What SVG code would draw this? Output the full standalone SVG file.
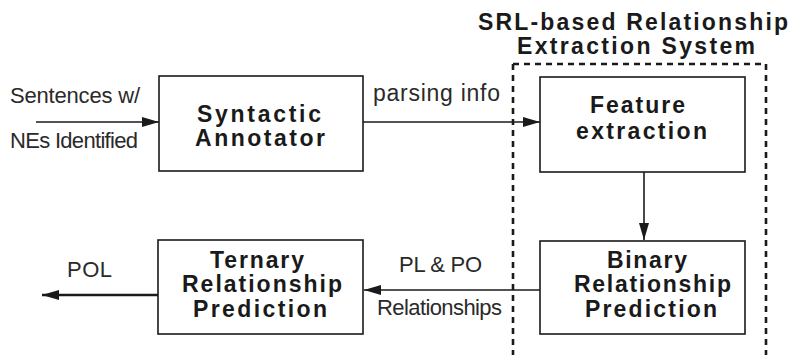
<svg xmlns="http://www.w3.org/2000/svg" width="795" height="355" viewBox="0 0 795 355">
  <style>
    .box { fill: #ffffff; stroke: #1a1a1a; stroke-width: 1.6; }
    .node { font-family: "Liberation Sans", Arial, sans-serif; font-weight: bold; font-size: 23px; fill: #1a1a1a; }
    .label { font-family: "Liberation Sans", Arial, sans-serif; font-size: 22px; fill: #2a2a2a; }
    .title { font-family: "Liberation Sans", Arial, sans-serif; font-weight: bold; font-size: 23px; fill: #1a1a1a; }
    .wire { fill: none; stroke: #1a1a1a; stroke-width: 1.6; }
    .wire-thick { fill: none; stroke: #1a1a1a; stroke-width: 2.4; }
    .dash { fill: none; stroke: #1a1a1a; stroke-width: 2.6; stroke-dasharray: 6 5; }
  </style>
  <defs>
    <marker id="arrow" markerUnits="userSpaceOnUse" markerWidth="18" markerHeight="12" refX="17" refY="6" orient="auto">
      <path d="M0,1 L17,6 L0,11 z" fill="#1a1a1a"/>
    </marker>
  </defs>

  <rect width="795" height="355" fill="#ffffff"/>

  <!-- dashed system boundary, open at the bottom -->
  <g id="system-boundary">
    <text class="title" x="478" y="30" textLength="310" lengthAdjust="spacing">SRL-based Relationship</text>
    <text class="title" x="517" y="54" textLength="238" lengthAdjust="spacing">Extraction System</text>
    <path class="dash" d="M513,64 H766"/>
    <path class="dash" d="M513,64 V355"/>
    <path class="dash" d="M766,64 V355"/>
  </g>

  <g id="connectors">
    <path class="wire" d="M36,122 H159" marker-end="url(#arrow)"/>
    <path class="wire" d="M363,122 H540" marker-end="url(#arrow)"/>
    <path class="wire" d="M644,172 V240" marker-end="url(#arrow)"/>
    <path class="wire" d="M540,290 H364" marker-end="url(#arrow)"/>
    <path class="wire-thick" d="M158,295 H42" marker-end="url(#arrow)"/>
    <text class="label" x="10" y="103" textLength="130" lengthAdjust="spacing">Sentences w/</text>
    <text class="label" x="10" y="148" textLength="128" lengthAdjust="spacing">NEs Identified</text>
    <text class="label" x="373" y="101" textLength="127" lengthAdjust="spacing" style="font-size:23px">parsing info</text>
    <text class="label" x="399" y="272" textLength="83" lengthAdjust="spacing">PL &amp; PO</text>
    <text class="label" x="377" y="315" textLength="125" lengthAdjust="spacing">Relationships</text>
    <text class="label" x="67" y="277" textLength="45" lengthAdjust="spacing">POL</text>
  </g>

  <g id="syntactic-annotator">
    <rect class="box" x="159" y="76" width="204" height="95"/>
    <text class="node" x="197" y="122" textLength="124" lengthAdjust="spacing">Syntactic</text>
    <text class="node" x="195" y="146" textLength="130" lengthAdjust="spacing">Annotator</text>
  </g>

  <g id="feature-extraction">
    <rect class="box" x="540" y="77" width="205" height="95"/>
    <text class="node" x="590" y="113" textLength="95" lengthAdjust="spacing">Feature</text>
    <text class="node" x="576" y="139" textLength="131" lengthAdjust="spacing">extraction</text>
  </g>

  <g id="binary-prediction">
    <rect class="box" x="540" y="241" width="205" height="93"/>
    <text class="node" x="607" y="268" textLength="80" lengthAdjust="spacing">Binary</text>
    <text class="node" x="574" y="292" textLength="157" lengthAdjust="spacing">Relationship</text>
    <text class="node" x="585" y="317" textLength="132" lengthAdjust="spacing">Prediction</text>
  </g>

  <g id="ternary-prediction">
    <rect class="box" x="158" y="240" width="205" height="94"/>
    <text class="node" x="210" y="268" textLength="94" lengthAdjust="spacing">Ternary</text>
    <text class="node" x="182" y="292" textLength="160" lengthAdjust="spacing">Relationship</text>
    <text class="node" x="193" y="317" textLength="134" lengthAdjust="spacing">Prediction</text>
  </g>
</svg>
